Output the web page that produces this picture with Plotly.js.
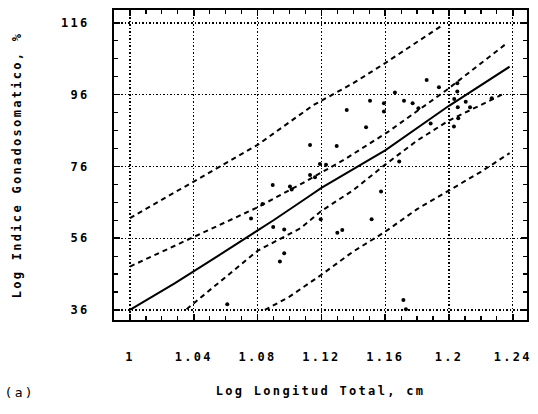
<!DOCTYPE html>
<html>
<head>
<meta charset="utf-8">
<script src="https://cdn.plot.ly/plotly-3.0.1.min.js"></script>
<style>
  html, body { margin: 0; padding: 0; background: #fff; }
  #chart { width: 538px; height: 414px; }
  .main-svg text { letter-spacing: 2.3px; font-weight: bold; }
</style>
</head>
<body>
<div id="chart"></div>
<script>
// ---- data ----
const xTickVals = [1, 1.04, 1.08, 1.12, 1.16, 1.2, 1.24];
const xTickText = ["1", "1.04", "1.08", "1.12", "1.16", "1.2", "1.24"];
const yTickVals = [36, 56, 76, 96, 116];
const yTickText = ["36", "56", "76", "96", "116"];

// fitted regression line
const fitX = [1.0, 1.028, 1.055, 1.09, 1.11, 1.12, 1.16, 1.2, 1.238];
const fitY = [36.0, 43.4, 51.0, 61.0, 67.0, 70.0, 80.5, 92.9, 103.8];

// prediction band (outer dashed lines)
const upperOuterX = [1.0, 1.04, 1.08, 1.115, 1.14, 1.16, 1.196];
const upperOuterY = [61.6, 71.8, 82.0, 93.1, 99.2, 104.8, 115.4];
const lowerOuterX = [1.0846, 1.1, 1.12, 1.14, 1.16, 1.18, 1.2, 1.22, 1.238];
const lowerOuterY = [36.0, 39.7, 45.8, 52.3, 57.8, 64.1, 69.3, 74.5, 79.7];

// confidence band (inner dashed lines)
const upperInnerX = [1.0, 1.04, 1.08, 1.108, 1.134, 1.162, 1.1985, 1.235];
const upperInnerY = [48.1, 56.3, 64.6, 71.3, 77.8, 85.7, 97.3, 109.9];
const lowerInnerX = [1.0355, 1.055, 1.08, 1.107, 1.12, 1.14, 1.16, 1.18, 1.2, 1.235];
const lowerInnerY = [36.2, 43.4, 52.5, 58.8, 63.6, 69.4, 76.5, 83.2, 88.8, 96.4];

// observations
const obsX = [1.0895, 1.1003, 1.1014, 1.0831, 1.0759, 1.0898, 1.0967, 1.0967, 1.094, 1.061,
              1.1129, 1.1505, 1.1718, 1.1592, 1.1592, 1.1359, 1.1661, 1.1808, 1.148, 1.1296,
              1.1191, 1.1229, 1.1688, 1.1772, 1.1129, 1.116, 1.1196, 1.1574, 1.1515, 1.13,
              1.1331, 1.173, 1.1714, 1.186, 1.1937, 1.2052, 1.2052, 1.2033, 1.2105, 1.2132,
              1.2055, 1.2058, 1.2031, 1.2268, 1.1885];
const obsY = [70.8, 70.4, 69.6, 65.5, 61.5, 59.1, 58.4, 51.8, 49.5, 37.6,
              82.0, 94.3, 94.3, 93.6, 91.3, 91.7, 96.6, 92.2, 86.9, 81.7,
              76.7, 76.5, 77.4, 93.6, 73.6, 73.0, 61.3, 69.0, 61.3, 57.5,
              58.3, 36.2, 38.8, 100.1, 98.1, 99.2, 96.9, 94.8, 94.0, 92.5,
              92.5, 89.4, 87.1, 95.0, 88.0];

const xTitle = "Log Longitud Total, cm";
const yTitle = "Log Indice Gonadosomatico, %";
const panelLabel = "(a)";

// ---- drawing ----
const dashStyle = { color: "#000", width: 2, dash: "5px,4px" };
const traces = [
  { x: upperOuterX, y: upperOuterY, mode: "lines", line: dashStyle, hoverinfo: "skip" },
  { x: lowerOuterX, y: lowerOuterY, mode: "lines", line: dashStyle, hoverinfo: "skip" },
  { x: upperInnerX, y: upperInnerY, mode: "lines", line: dashStyle, hoverinfo: "skip" },
  { x: lowerInnerX, y: lowerInnerY, mode: "lines", line: dashStyle, hoverinfo: "skip" },
  { x: fitX, y: fitY, mode: "lines", line: { color: "#000", width: 2 } },
  { x: obsX, y: obsY, mode: "markers", marker: { color: "#000", size: 4 } }
];

const font = { family: "DejaVu Sans Mono", size: 12, color: "#000", weight: 700 };

const layout = {
  width: 538, height: 414,
  margin: { l: 114, r: 11, t: 10, b: 94 },
  paper_bgcolor: "#fff", plot_bgcolor: "#fff",
  showlegend: false,
  font: font,
  xaxis: {
    range: [0.990, 1.2489],
    tickvals: xTickVals, ticktext: xTickText,
    showgrid: true, gridcolor: "#000", gridwidth: 1.2, griddash: "1.5px,2px",
    zeroline: false,
    showline: true, linecolor: "#000", linewidth: 2, mirror: "allticks",
    ticks: "inside", ticklen: 6, tickwidth: 1.5, tickcolor: "#000",
    minor: { dtick: 0.01, tick0: 1, ticks: "inside", ticklen: 4, tickwidth: 1.2, tickcolor: "#000", showgrid: false },
    ticklabelstandoff: 25,
    tickfont: font,
    title: { text: xTitle, font: font, standoff: 23 }
  },
  yaxis: {
    range: [33.2, 119.6],
    tickvals: yTickVals, ticktext: yTickText,
    showgrid: true, gridcolor: "#000", gridwidth: 1.2, griddash: "1.5px,2px",
    zeroline: false,
    showline: true, linecolor: "#000", linewidth: 2, mirror: "allticks",
    ticks: "inside", ticklen: 6, tickwidth: 1.5, tickcolor: "#000",
    minor: { dtick: 5, tick0: 36, ticks: "inside", ticklen: 4, tickwidth: 1.2, tickcolor: "#000", showgrid: false },
    ticklabelstandoff: 20,
    tickfont: font,
    title: { text: yTitle, font: font, standoff: 44 }
  },
  annotations: [
    { text: panelLabel, xref: "paper", yref: "paper", x: -0.262, y: -0.235,
      xanchor: "left", yanchor: "middle", showarrow: false,
      font: { family: "DejaVu Sans Mono", size: 13, color: "#000", weight: 400 } }
  ]
};

Plotly.newPlot("chart", traces, layout, { displayModeBar: false, staticPlot: true });
</script>
</body>
</html>
